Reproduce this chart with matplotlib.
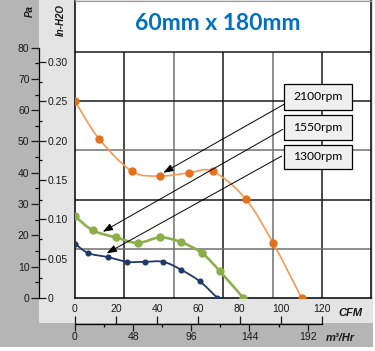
import numpy as np
from matplotlib import pyplot as plt
from matplotlib.path import Path
from matplotlib.patches import PathPatch, Rectangle

# fan curves: airflow (CFM) vs static pressure (inch H2O)
cfm_2100 = [0, 11.8, 27.8, 41.3, 55.2, 67.0, 82.9, 96.2, 110.1]
inh2o_2100 = [0.250, 0.202, 0.161, 0.155, 0.159, 0.161, 0.126, 0.070, 0.0]
cfm_1550 = [0, 8.6, 19.9, 30.5, 41.3, 51.5, 61.7, 70.4, 81.8]
inh2o_1550 = [0.104, 0.086, 0.077, 0.070, 0.077, 0.071, 0.057, 0.034, 0.0]
cfm_1300 = [0, 6.5, 15.9, 25.5, 34.0, 42.9, 51.5, 60.7, 69.2]
inh2o_1300 = [0.069, 0.057, 0.052, 0.046, 0.046, 0.046, 0.036, 0.021, 0.0]

speed_labels = ["2100rpm", "1550rpm", "1300rpm"]
title = "60mm x 180mm"

pa_ticks = [0, 10, 20, 30, 40, 50, 60, 70, 80]
pa_minor = [5, 15, 25, 35, 45, 55, 65, 75]
inh2o_ticks = [0, 0.05, 0.10, 0.15, 0.20, 0.25, 0.30]
inh2o_labels = ["0", "0.05", "0.10", "0.15", "0.20", "0.25", "0.30"]
inh2o_minor = [0.025, 0.075, 0.125, 0.175, 0.225, 0.275]
cfm_ticks = [0, 20, 40, 60, 80, 100, 120]
m3h_ticks = [0, 48, 96, 144, 192]
m3h_minor = [24, 72, 120, 168]
grid_cfm = [24, 48, 72, 96, 120]
grid_inh2o = [0.0625, 0.125, 0.1875, 0.25, 0.3125]

M3H_PER_CFM = 1.699
PA_PER_INH2O = 251.3

W, H = 375, 351
PX_PER_CFM = 2.0583
PX_PER_INH2O = 786.7
X_MAX = 296 / PX_PER_CFM
Y_MAX = 297.5 / PX_PER_INH2O


def fig_box(x0, y0, x1, y1):
	# pixel box (top-left origin) -> figure fraction rect
	return [x0 / W, 1 - y1 / H, (x1 - x0) / W, (y1 - y0) / H]


def smooth_path(xs, ys):
	pts = np.column_stack([xs, ys]).astype(float)
	n = len(pts)
	verts = [pts[0]]
	codes = [Path.MOVETO]
	for i in range(n - 1):
		p_prev = pts[max(i - 1, 0)]
		p_next2 = pts[min(i + 2, n - 1)]
		c1 = pts[i] + (pts[i + 1] - p_prev) / 6
		c2 = pts[i + 1] - (p_next2 - pts[i]) / 6
		verts += [c1, c2, pts[i + 1]]
		codes += [Path.CURVE4] * 3
	return Path(verts, codes)


plt.rcParams["font.family"] = ["Liberation Sans", "DejaVu Sans"]
fig = plt.figure(figsize=(W / 100, H / 100), dpi=100)
fig.patch.set_facecolor("white")

fig.add_artist(Rectangle(fig_box(0, 0, 373, 347)[:2], fig_box(0, 0, 373, 347)[2], fig_box(0, 0, 373, 347)[3],
	transform=fig.transFigure, facecolor="#b5b5b5", edgecolor="none", zorder=-10))
fig.add_artist(Rectangle(fig_box(39, 0, 373, 323)[:2], fig_box(39, 0, 373, 323)[2], fig_box(39, 0, 373, 323)[3],
	transform=fig.transFigure, facecolor="#e4e4e4", edgecolor="none", zorder=-9))

# main plot area
ax = fig.add_axes(fig_box(75, 0.5, 371, 298))
ax.set_facecolor("white")
ax.set_xlim(0, X_MAX)
ax.set_ylim(0, Y_MAX)
ax.set_xticks([])
ax.set_yticks([])
for side in ["left", "bottom", "right"]:
	ax.spines[side].set_color("black")
	ax.spines[side].set_linewidth(1.1)
ax.spines["top"].set_color("#9a9a9a")
ax.spines["top"].set_linewidth(0.8)

grid_x_colors = ["#1a1a1a", "#707070", "#1a1a1a", "#707070", "#1a1a1a"]
ax.vlines(grid_cfm, 0, grid_inh2o[-1], colors=grid_x_colors, linewidth=1.1, zorder=1)
grid_y_colors = ["#707070", "#1a1a1a", "#707070", "#1a1a1a", "#1a1a1a"]
ax.hlines(grid_inh2o, 0, X_MAX, colors=grid_y_colors, linewidth=1.1, zorder=1)

series = [
	(cfm_2100, inh2o_2100, "#f79a50", "#e5701c", 1.2, 5.0),
	(cfm_1550, inh2o_1550, "#8db04e", "#8aae4a", 1.9, 5.0),
	(cfm_1300, inh2o_1300, "#1f3a68", "#1f3a68", 1.3, 3.4),
]
for xs, ys, line_c, mark_c, lw, ms in series:
	ax.add_patch(PathPatch(smooth_path(xs, ys), fill=False, edgecolor=line_c, linewidth=lw, zorder=3))
	ax.plot(xs, ys, "o", color=mark_c, markersize=ms, linestyle="none", zorder=4)

# arrows from the speed labels to their curves
arrows = [((42.9, 0.1592), (101.7, 0.2464)), ((13.5, 0.0842), (100.9, 0.2143)), ((15.4, 0.0568), (100.4, 0.1804))]
for tip, start in arrows:
	ax.annotate("", xy=tip, xytext=start,
		arrowprops=dict(arrowstyle="-|>,head_length=0.6,head_width=0.22", color="black", lw=0.7,
			mutation_scale=10, shrinkA=0, shrinkB=0), zorder=5)

box_rows = [(84, 110), (115, 140), (145, 169)]
for label, (y0, y1) in zip(speed_labels, box_rows):
	r = fig_box(284, y0, 352, y1)
	fig.add_artist(Rectangle(r[:2], r[2], r[3], transform=fig.transFigure,
		facecolor="#f0f0f0", edgecolor="black", linewidth=0.9, zorder=6))
	fig.text(318 / W, 1 - (y0 + y1) / 2 / H, label, ha="center", va="center",
		fontsize=8.7, family="Lato", color="black", zorder=7)

# left scale: Pa (left) and inch H2O (right) on one line
axp = fig.add_axes(fig_box(39, 0.5, 39.001, 298))
axp.set_ylim(0, Y_MAX * PA_PER_INH2O)
axp.patch.set_visible(False)
axp.set_xticks([])
for side in ["top", "bottom", "right"]:
	axp.spines[side].set_visible(False)
axp.spines["left"].set_bounds(0, 80)
axp.spines["left"].set_linewidth(0.9)
axp.set_yticks(pa_ticks)
axp.set_yticks(pa_minor, minor=True)
axp.tick_params(axis="y", which="major", length=5.8, width=0.9, labelsize=7.5, pad=1, colors="#1a1a1a")
axp.tick_params(axis="y", which="minor", length=2.9, width=0.9)

axi = fig.add_axes(fig_box(39, 0.5, 39.001, 298))
axi.set_ylim(0, Y_MAX)
axi.patch.set_visible(False)
axi.set_xticks([])
for side in axi.spines:
	axi.spines[side].set_visible(False)
axi.yaxis.tick_right()
axi.set_yticks(inh2o_ticks, inh2o_labels)
axi.set_yticks(inh2o_minor, minor=True)
axi.tick_params(axis="y", which="major", length=5.0, width=0.9, labelsize=7.5, pad=1, colors="#1a1a1a")
axi.tick_params(axis="y", which="minor", length=2.2, width=0.9)

# bottom scale: CFM (above) and m3/Hr (below) on one line
axc = fig.add_axes(fig_box(75, 324, 371, 324.001))
axc.set_xlim(0, X_MAX)
axc.patch.set_visible(False)
axc.set_yticks([])
for side in ["left", "right", "top"]:
	axc.spines[side].set_visible(False)
axc.spines["bottom"].set_bounds(0, 120)
axc.spines["bottom"].set_linewidth(0.9)
axc.xaxis.tick_top()
axc.set_xticks(cfm_ticks)
axc.tick_params(axis="x", length=6.0, width=0.9, labelsize=7.5, pad=1, colors="#1a1a1a")

axm = fig.add_axes(fig_box(75, 324, 371, 324.001))
axm.set_xlim(0, X_MAX * M3H_PER_CFM)
axm.patch.set_visible(False)
axm.set_yticks([])
for side in axm.spines:
	axm.spines[side].set_visible(False)
axm.set_xticks(m3h_ticks)
axm.set_xticks(m3h_minor, minor=True)
axm.tick_params(axis="x", which="major", length=5.0, width=0.9, labelsize=7.5, pad=1, colors="#1a1a1a")
axm.tick_params(axis="x", which="minor", length=2.5, width=0.9)

# axis unit labels and title
unit_font = dict(fontsize=7, fontweight="bold", fontstyle="italic", color="#1a1a1a", ha="center", va="center")
fig.text(30 / W, 1 - 11 / H, "Pa", rotation=90, **unit_font)
fig.text(61 / W, 1 - 20 / H, "In-H2O", rotation=90, **unit_font)
fig.text(350 / W, 1 - 313 / H, "CFM", **dict(unit_font, fontsize=8))
fig.text(340 / W, 1 - 338 / H, "m³/Hr", **dict(unit_font, fontsize=8))
fig.text(218 / W, 1 - 24 / H, title, ha="center", va="center", fontsize=16.5, fontweight="bold",
	family="Lato", color="#0070c0")

fig.savefig("out.png", dpi=100)
